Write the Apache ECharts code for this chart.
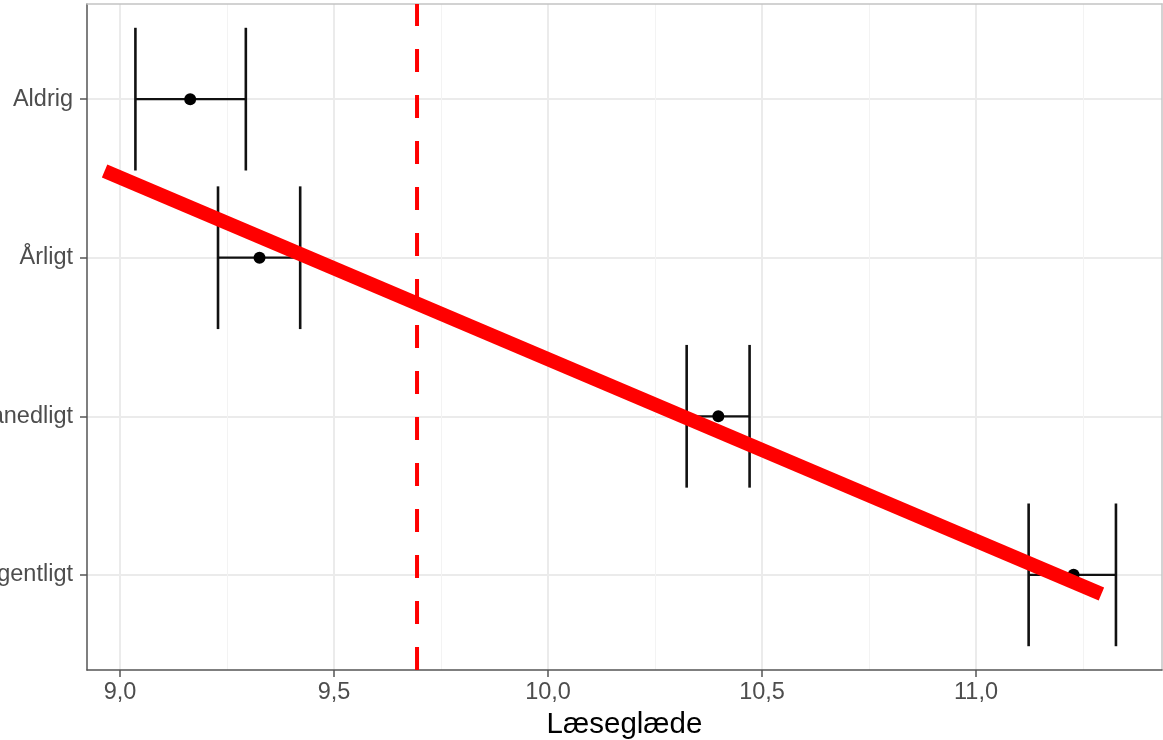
<!DOCTYPE html>
<html>
<head>
<meta charset="utf-8">
<script src="https://cdn.jsdelivr.net/npm/echarts@6/dist/echarts.min.js"></script>
<style>
html,body{margin:0;padding:0;background:#fff;}
#c{width:1163px;height:740px;}
</style>
</head>
<body>
<div id="c"></div>
<script>
// Data
const categories = ['Aldrig', 'Årligt', 'Månedligt', 'Ugentligt'];
const means = [9.164, 9.326, 10.398, 11.228];
const lower = [9.036, 9.229, 10.324, 11.123];
const upper = [9.294, 9.421, 10.471, 11.327];
const referenceX = 9.694;              // dashed vertical line
const trendX = [8.964, 11.293];        // thick red line, x ends
const trendY = [1.453, 4.121];         // thick red line, y ends (category index units)
const majorTicks = [9.0, 9.5, 10.0, 10.5, 11.0];
const minorTicks = [9.25, 9.75, 10.25, 10.75, 11.25];

const X_MIN = 8.9229, X_MAX = 11.4346;
const Y_MIN = 0.4, Y_MAX = 4.6;
const CAP_HALF = 0.45;
const FONT = '"Liberation Sans", Arial, sans-serif';

const chart = echarts.init(document.getElementById('c'), null, {renderer: 'canvas'});

const errData = categories.map((c, i) => [i + 1, lower[i], upper[i]]);
const pointData = categories.map((c, i) => [means[i], i + 1]);
const trendData = trendX.map((x, i) => [x, trendY[i]]);

const option = {
  animation: false,
  backgroundColor: '#ffffff',
  grid: {left: 87, right: 1, top: 4, bottom: 70, containLabel: false, outerBoundsMode: 'none'},
  xAxis: [
    {
      type: 'value', position: 'bottom', min: X_MIN, max: X_MAX,
      axisLine: {show: true, lineStyle: {color: '#555555', width: 1.5}},
      axisTick: {show: true, customValues: majorTicks, length: 7, lineStyle: {color: '#555555', width: 1.5}},
      axisLabel: {
        show: true, customValues: majorTicks, margin: 11,
        color: '#4d4d4d', fontSize: 23.5, fontFamily: FONT,
        formatter: v => v.toFixed(1).replace('.', ',')
      },
      splitLine: {show: true, lineStyle: {color: '#ebebeb', width: 2}},
      name: 'Læseglæde', nameLocation: 'middle', nameGap: 36,
      nameTextStyle: {color: '#000000', fontSize: 29.5, fontFamily: FONT}
    },
    {
      type: 'value', position: 'top', min: X_MIN, max: X_MAX,
      axisLine: {show: true, onZero: false, lineStyle: {color: '#c4c4c4', width: 1.5}},
      axisTick: {show: false, customValues: minorTicks},
      axisLabel: {show: false, customValues: minorTicks},
      splitLine: {show: true, lineStyle: {color: '#f3f3f3', width: 1}}
    }
  ],
  yAxis: [
    {
      type: 'value', inverse: true, min: Y_MIN, max: Y_MAX,
      axisLine: {show: true, onZero: false, lineStyle: {color: '#555555', width: 1.5}},
      axisTick: {show: true, customValues: [1, 2, 3, 4], length: 7, lineStyle: {color: '#555555', width: 1.5}},
      axisLabel: {
        show: true, customValues: [1, 2, 3, 4], margin: 14,
        color: '#4d4d4d', fontSize: 23.5, fontFamily: FONT,
        formatter: v => categories[Math.round(v) - 1] || ''
      },
      splitLine: {show: true, lineStyle: {color: '#ebebeb', width: 2}}
    },
    {
      type: 'value', position: 'right', min: 0, max: 1,
      axisLine: {show: true, onZero: false, lineStyle: {color: '#c4c4c4', width: 1.5}},
      axisTick: {show: false}, axisLabel: {show: false}, splitLine: {show: false}
    }
  ],
  series: [
    {
      type: 'custom', xAxisIndex: 0, yAxisIndex: 0, z: 2,
      data: errData,
      encode: {x: [1, 2], y: 0},
      renderItem: (params, api) => {
        const y = api.value(0), lo = api.value(1), hi = api.value(2);
        const pL = api.coord([lo, y]);
        const pR = api.coord([hi, y]);
        const yTop = api.coord([lo, y - CAP_HALF])[1];
        const yBot = api.coord([lo, y + CAP_HALF])[1];
        const st = {stroke: '#111111', lineWidth: 2.2};
        const sv = {stroke: '#111111', lineWidth: 2.6};
        return {
          type: 'group',
          children: [
            {type: 'line', shape: {x1: pL[0], y1: pL[1], x2: pR[0], y2: pR[1]}, style: st},
            {type: 'line', shape: {x1: pL[0], y1: yTop, x2: pL[0], y2: yBot}, style: sv},
            {type: 'line', shape: {x1: pR[0], y1: yTop, x2: pR[0], y2: yBot}, style: sv}
          ]
        };
      }
    },
    {
      type: 'scatter', xAxisIndex: 0, yAxisIndex: 0, z: 3,
      data: pointData, symbol: 'circle', symbolSize: 12,
      itemStyle: {color: '#000000', opacity: 1}, emphasis: {disabled: true}
    },
    {
      type: 'line', xAxisIndex: 0, yAxisIndex: 0, z: 4,
      data: trendData, symbol: 'none', showSymbol: false,
      lineStyle: {color: '#ff0000', width: 14, cap: 'butt'},
      emphasis: {disabled: true}
    },
    {
      type: 'line', xAxisIndex: 0, yAxisIndex: 0, z: 5,
      data: [[referenceX, Y_MAX], [referenceX, Y_MIN]], symbol: 'none', showSymbol: false,
      lineStyle: {color: '#ff0000', width: 4, type: [23, 23], cap: 'butt'},
      emphasis: {disabled: true}
    }
  ]
};
chart.setOption(option);
</script>
</body>
</html>
